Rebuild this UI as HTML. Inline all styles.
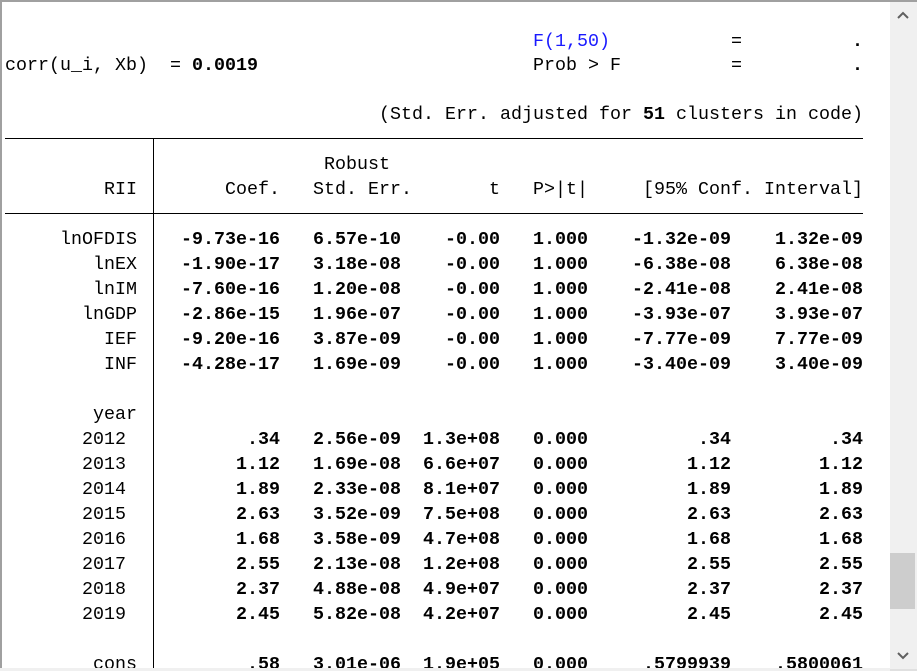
<!DOCTYPE html>
<html><head><meta charset="utf-8"><style>
body{margin:0;background:#fff;}
#w{position:relative;width:917px;height:671px;overflow:hidden;background:#fff;font-family:"Liberation Mono",monospace;font-size:18.33px;color:#000;}
.t{position:absolute;white-space:pre;line-height:25px;height:25px;margin-top:2px;}
.b{font-weight:bold;}
.h{position:absolute;background:#000;}
</style></head><body><div id="w">
<div style="position:absolute;left:0;top:0;width:917px;height:2px;background:#a0a0a0"></div>
<div style="position:absolute;left:0;top:0;width:2px;height:671px;background:#a0a0a0"></div>
<div style="position:absolute;left:0;top:669px;width:917px;height:2px;background:#e0e0e0"></div>
<div style="position:absolute;left:890px;top:2px;width:27px;height:667px;background:#f0f0f0"></div>
<div style="position:absolute;left:890px;top:553px;width:25px;height:56px;background:#cdcdcd"></div>
<svg style="position:absolute;left:890px;top:0" width="27" height="671"><polyline points="8,18 13,13 18,18" fill="none" stroke="#606060" stroke-width="2"/><polyline points="8,653 13,658 18,653" fill="none" stroke="#606060" stroke-width="2"/></svg>

<div class="t" style="left:533px;top:27px;color:#1a1aff">F(1,50)</div>
<div class="t" style="left:731px;top:27px">=</div>
<div class="t b" style="left:852px;top:27px">.</div>
<div class="t" style="left:5px;top:51px">corr(u_i, Xb)  = <b>0.0019</b></div>
<div class="t" style="left:533px;top:51px">Prob &gt; F</div>
<div class="t" style="left:731px;top:51px">=</div>
<div class="t b" style="left:852px;top:51px">.</div>
<div class="t" style="left:379px;top:100px">(Std. Err. adjusted for <b>51</b> clusters in code)</div>

<div class="h" style="left:5px;top:138px;width:858px;height:1px"></div>
<div class="h" style="left:5px;top:213px;width:858px;height:1px"></div>
<div class="h" style="left:153px;top:138px;width:1px;height:540px"></div>

<div class="t" style="left:324px;top:150px">Robust</div>
<div class="t" style="right:780px;top:175px">RII</div>
<div class="t" style="right:637px;top:175px">Coef.</div>
<div class="t" style="right:505px;top:175px">Std. Err.</div>
<div class="t" style="right:417px;top:175px">t</div>
<div class="t" style="right:329px;top:175px">P&gt;|t|</div>
<div class="t" style="right:54px;top:175px">[95% Conf. Interval]</div>

<div class="t" style="right:780px;top:225px">lnOFDIS</div><div class="t b" style="right:637px;top:225px">-9.73e-16</div><div class="t b" style="right:516px;top:225px">6.57e-10</div><div class="t b" style="right:417px;top:225px">-0.00</div><div class="t b" style="right:329px;top:225px">1.000</div><div class="t b" style="right:186px;top:225px">-1.32e-09</div><div class="t b" style="right:54px;top:225px">1.32e-09</div>
<div class="t" style="right:780px;top:250px">lnEX</div><div class="t b" style="right:637px;top:250px">-1.90e-17</div><div class="t b" style="right:516px;top:250px">3.18e-08</div><div class="t b" style="right:417px;top:250px">-0.00</div><div class="t b" style="right:329px;top:250px">1.000</div><div class="t b" style="right:186px;top:250px">-6.38e-08</div><div class="t b" style="right:54px;top:250px">6.38e-08</div>
<div class="t" style="right:780px;top:275px">lnIM</div><div class="t b" style="right:637px;top:275px">-7.60e-16</div><div class="t b" style="right:516px;top:275px">1.20e-08</div><div class="t b" style="right:417px;top:275px">-0.00</div><div class="t b" style="right:329px;top:275px">1.000</div><div class="t b" style="right:186px;top:275px">-2.41e-08</div><div class="t b" style="right:54px;top:275px">2.41e-08</div>
<div class="t" style="right:780px;top:300px">lnGDP</div><div class="t b" style="right:637px;top:300px">-2.86e-15</div><div class="t b" style="right:516px;top:300px">1.96e-07</div><div class="t b" style="right:417px;top:300px">-0.00</div><div class="t b" style="right:329px;top:300px">1.000</div><div class="t b" style="right:186px;top:300px">-3.93e-07</div><div class="t b" style="right:54px;top:300px">3.93e-07</div>
<div class="t" style="right:780px;top:325px">IEF</div><div class="t b" style="right:637px;top:325px">-9.20e-16</div><div class="t b" style="right:516px;top:325px">3.87e-09</div><div class="t b" style="right:417px;top:325px">-0.00</div><div class="t b" style="right:329px;top:325px">1.000</div><div class="t b" style="right:186px;top:325px">-7.77e-09</div><div class="t b" style="right:54px;top:325px">7.77e-09</div>
<div class="t" style="right:780px;top:350px">INF</div><div class="t b" style="right:637px;top:350px">-4.28e-17</div><div class="t b" style="right:516px;top:350px">1.69e-09</div><div class="t b" style="right:417px;top:350px">-0.00</div><div class="t b" style="right:329px;top:350px">1.000</div><div class="t b" style="right:186px;top:350px">-3.40e-09</div><div class="t b" style="right:54px;top:350px">3.40e-09</div>

<div class="t" style="right:780px;top:400px">year</div>
<div class="t" style="right:791px;top:425px">2012</div><div class="t b" style="right:637px;top:425px">.34</div><div class="t b" style="right:516px;top:425px">2.56e-09</div><div class="t b" style="right:417px;top:425px">1.3e+08</div><div class="t b" style="right:329px;top:425px">0.000</div><div class="t b" style="right:186px;top:425px">.34</div><div class="t b" style="right:54px;top:425px">.34</div>
<div class="t" style="right:791px;top:450px">2013</div><div class="t b" style="right:637px;top:450px">1.12</div><div class="t b" style="right:516px;top:450px">1.69e-08</div><div class="t b" style="right:417px;top:450px">6.6e+07</div><div class="t b" style="right:329px;top:450px">0.000</div><div class="t b" style="right:186px;top:450px">1.12</div><div class="t b" style="right:54px;top:450px">1.12</div>
<div class="t" style="right:791px;top:475px">2014</div><div class="t b" style="right:637px;top:475px">1.89</div><div class="t b" style="right:516px;top:475px">2.33e-08</div><div class="t b" style="right:417px;top:475px">8.1e+07</div><div class="t b" style="right:329px;top:475px">0.000</div><div class="t b" style="right:186px;top:475px">1.89</div><div class="t b" style="right:54px;top:475px">1.89</div>
<div class="t" style="right:791px;top:500px">2015</div><div class="t b" style="right:637px;top:500px">2.63</div><div class="t b" style="right:516px;top:500px">3.52e-09</div><div class="t b" style="right:417px;top:500px">7.5e+08</div><div class="t b" style="right:329px;top:500px">0.000</div><div class="t b" style="right:186px;top:500px">2.63</div><div class="t b" style="right:54px;top:500px">2.63</div>
<div class="t" style="right:791px;top:525px">2016</div><div class="t b" style="right:637px;top:525px">1.68</div><div class="t b" style="right:516px;top:525px">3.58e-09</div><div class="t b" style="right:417px;top:525px">4.7e+08</div><div class="t b" style="right:329px;top:525px">0.000</div><div class="t b" style="right:186px;top:525px">1.68</div><div class="t b" style="right:54px;top:525px">1.68</div>
<div class="t" style="right:791px;top:550px">2017</div><div class="t b" style="right:637px;top:550px">2.55</div><div class="t b" style="right:516px;top:550px">2.13e-08</div><div class="t b" style="right:417px;top:550px">1.2e+08</div><div class="t b" style="right:329px;top:550px">0.000</div><div class="t b" style="right:186px;top:550px">2.55</div><div class="t b" style="right:54px;top:550px">2.55</div>
<div class="t" style="right:791px;top:575px">2018</div><div class="t b" style="right:637px;top:575px">2.37</div><div class="t b" style="right:516px;top:575px">4.88e-08</div><div class="t b" style="right:417px;top:575px">4.9e+07</div><div class="t b" style="right:329px;top:575px">0.000</div><div class="t b" style="right:186px;top:575px">2.37</div><div class="t b" style="right:54px;top:575px">2.37</div>
<div class="t" style="right:791px;top:600px">2019</div><div class="t b" style="right:637px;top:600px">2.45</div><div class="t b" style="right:516px;top:600px">5.82e-08</div><div class="t b" style="right:417px;top:600px">4.2e+07</div><div class="t b" style="right:329px;top:600px">0.000</div><div class="t b" style="right:186px;top:600px">2.45</div><div class="t b" style="right:54px;top:600px">2.45</div>
<div class="t" style="right:780px;top:650px">_cons</div><div class="t b" style="right:637px;top:650px">.58</div><div class="t b" style="right:516px;top:650px">3.01e-06</div><div class="t b" style="right:417px;top:650px">1.9e+05</div><div class="t b" style="right:329px;top:650px">0.000</div><div class="t b" style="right:186px;top:650px">.5799939</div><div class="t b" style="right:54px;top:650px">.5800061</div>
<div style="position:absolute;left:0;top:668px;width:890px;height:3px;background:#f0f0f0"></div>
</div></body></html>
